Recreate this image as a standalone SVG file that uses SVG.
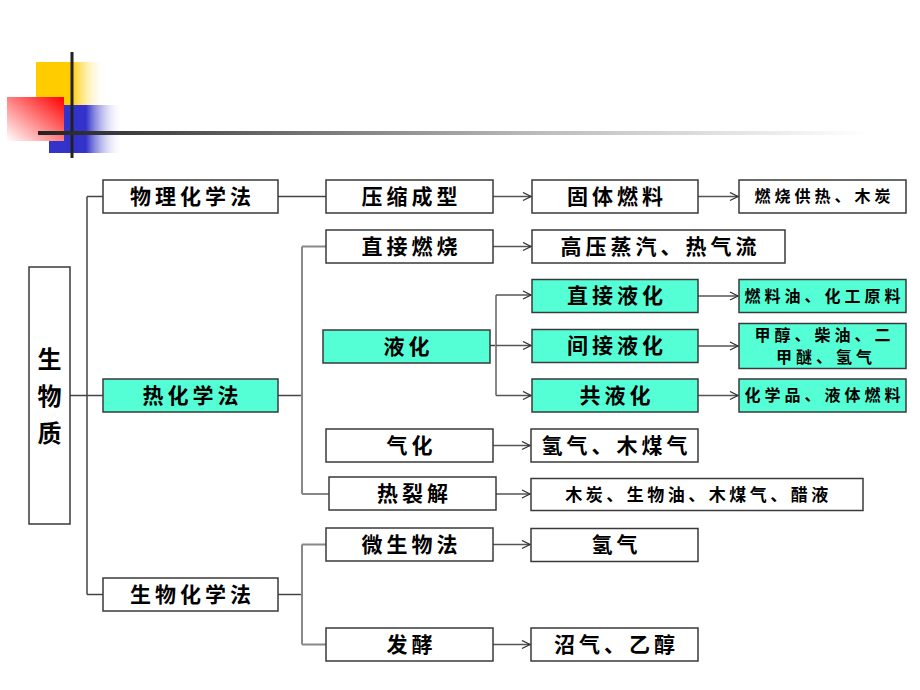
<svg xmlns="http://www.w3.org/2000/svg" width="920" height="690" viewBox="0 0 920 690">
<defs>
<linearGradient id="gY" x1="0" y1="0" x2="1" y2="0"><stop offset="0" stop-color="#FFCC00"/><stop offset="0.5" stop-color="#FFCC00"/><stop offset="1" stop-color="#FFFFFF" stop-opacity="0"/></linearGradient>
<linearGradient id="gB" x1="0" y1="0" x2="1" y2="0"><stop offset="0" stop-color="#3333CC"/><stop offset="0.5" stop-color="#3333CC"/><stop offset="1" stop-color="#FFFFFF" stop-opacity="0"/></linearGradient>
<linearGradient id="gR" x1="1" y1="0" x2="0" y2="1"><stop offset="0" stop-color="#FF0000"/><stop offset="1" stop-color="#FFFFFF"/></linearGradient>
<linearGradient id="gL" x1="0" y1="0" x2="1" y2="0"><stop offset="0" stop-color="#222222"/><stop offset="0.6" stop-color="#BBBBBB"/><stop offset="1" stop-color="#FFFFFF"/></linearGradient>
<marker id="arr" markerUnits="userSpaceOnUse" markerWidth="12" markerHeight="12" refX="9" refY="5" orient="auto"><path d="M1,1 L9,5 L1,9" fill="none" stroke="#333" stroke-width="1.3"/></marker>
<style>
.b{fill:#fff;stroke:#3a3a3a;stroke-width:1.5}
.c{fill:#55FFD5;stroke:#3a3a3a;stroke-width:1.5}
.t{font-family:"Noto Sans CJK SC",sans-serif;font-weight:bold;font-size:21px;letter-spacing:4px;fill:#000;text-anchor:middle;dominant-baseline:central}
.s{font-size:16px;letter-spacing:4px}
.l{fill:none;stroke:#444;stroke-width:1.5}
.g{fill:none;stroke:#888;stroke-width:2}
.a{fill:none;stroke:#555;stroke-width:1.5;marker-end:url(#arr)}
</style>
</defs>
<g id="logo">
<rect x="36" y="62" width="71" height="43" fill="url(#gY)"/>
<rect x="49" y="105" width="74" height="48" fill="url(#gB)"/>
<rect x="7" y="97" width="57" height="44" fill="url(#gR)"/>
<rect x="70.5" y="52" width="3" height="106" fill="#222"/>
<rect x="38" y="131" width="830" height="4" fill="url(#gL)"/>
</g>
<g id="connectors">
<path class="l" d="M70 395.5 H103 M87 196.5 V594.5 M87 196.5 H103 M87 594.5 H103"/>
<path class="l" d="M278 196.5 H326"/>
<path class="l" d="M278 395.5 H302"/>
<path class="g" d="M302 246.5 V494 M302 246.5 H326 M302 494 H329"/>
<path class="l" d="M278 594.5 H302"/>
<path class="g" d="M302 544.5 V644.5 M302 544.5 H326 M302 644.5 H326"/>
<path class="l" d="M490 345.5 H496"/>
<path class="g" d="M496 295 V395.5"/>
<path class="a" d="M496 295 H531"/>
<path class="a" d="M496 345.5 H531"/>
<path class="a" d="M496 395.5 H531"/>
<path class="a" d="M493 196.5 H531"/>
<path class="a" d="M698 196.5 H738"/>
<path class="a" d="M493 246.5 H531"/>
<path class="a" d="M698 296 H738"/>
<path class="a" d="M698 346 H738"/>
<path class="a" d="M698 395.5 H738"/>
<path class="a" d="M493 445.5 H530"/>
<path class="a" d="M496 494 H530"/>
<path class="a" d="M493 544.5 H530"/>
<path class="a" d="M493 644.5 H530"/>
</g>
<g id="n-root"><rect class="b" x="29" y="267" width="41" height="257"/>
<text class="t" style="font-size:24px;letter-spacing:0" x="49.5" y="357">生</text>
<text class="t" style="font-size:24px;letter-spacing:0" x="49.5" y="394">物</text>
<text class="t" style="font-size:24px;letter-spacing:0" x="49.5" y="431">质</text></g>
<g id="n-wlhx"><rect class="b" x="103" y="180" width="175" height="33"/><text class="t" x="192.5" y="194.5">物理化学法</text></g>
<g id="n-rhx"><rect class="c" x="103" y="379" width="175" height="33"/><text class="t" x="192.5" y="393.5">热化学法</text></g>
<g id="n-swhx"><rect class="b" x="103" y="578" width="175" height="33"/><text class="t" x="192.5" y="592.5">生物化学法</text></g>
<g id="n-ysx"><rect class="b" x="326" y="180" width="167" height="33"/><text class="t" x="411.5" y="194.5">压缩成型</text></g>
<g id="n-zjrs"><rect class="b" x="326" y="230" width="167" height="33"/><text class="t" x="411.5" y="244.5">直接燃烧</text></g>
<g id="n-yh"><rect class="c" x="323" y="330" width="167" height="33"/><text class="t" x="408.5" y="344.5">液化</text></g>
<g id="n-qh"><rect class="b" x="326" y="429" width="167" height="33"/><text class="t" x="411.5" y="443.5">气化</text></g>
<g id="n-rlj"><rect class="b" x="329" y="477" width="167" height="33"/><text class="t" x="414.5" y="491.5">热裂解</text></g>
<g id="n-wsw"><rect class="b" x="326" y="528" width="167" height="33"/><text class="t" x="411.5" y="542.5">微生物法</text></g>
<g id="n-fj"><rect class="b" x="326" y="628" width="167" height="33"/><text class="t" x="411.5" y="642.5">发酵</text></g>
<g id="n-gtrl"><rect class="b" x="532" y="180" width="166" height="33"/><text class="t" x="617" y="194.5">固体燃料</text></g>
<g id="n-gyzq"><rect class="b" x="532" y="230" width="253" height="33"/><text class="t" x="660.5" y="244.5">高压蒸汽、热气流</text></g>
<g id="n-zjyh"><rect class="c" x="532" y="279.5" width="166" height="33"/><text class="t" x="617" y="294">直接液化</text></g>
<g id="n-jjyh"><rect class="c" x="532" y="329.5" width="166" height="33"/><text class="t" x="617" y="344">间接液化</text></g>
<g id="n-gyh"><rect class="c" x="532" y="379" width="166" height="33"/><text class="t" x="617" y="393.5">共液化</text></g>
<g id="n-qqmq"><rect class="b" x="531" y="429" width="167" height="33"/><text class="t" x="616.5" y="443.5">氢气、木煤气</text></g>
<g id="n-mt"><rect class="b" x="531" y="478.5" width="332" height="32"/><text class="t" style="font-size:17px;letter-spacing:3.5px" x="698.5" y="493">木炭、生物油、木煤气、醋液</text></g>
<g id="n-qq"><rect class="b" x="531" y="528.5" width="167" height="33"/><text class="t" x="616.5" y="543">氢气</text></g>
<g id="n-zq"><rect class="b" x="531" y="628" width="167" height="33"/><text class="t" x="616.5" y="642.5">沼气、乙醇</text></g>
<g id="n-rsgr"><rect class="b" x="739" y="180" width="167" height="33"/><text class="t s" x="824.5" y="195">燃烧供热、木炭</text></g>
<g id="n-rly"><rect class="c" x="739" y="279.5" width="167" height="33"/><text class="t s" x="824.5" y="294.5">燃料油、化工原料</text></g>
<g id="n-jc"><rect class="c" x="739" y="323.5" width="167" height="45"/><text class="t s" x="824.5" y="334">甲醇、柴油、二</text><text class="t s" x="826" y="356">甲醚、氢气</text></g>
<g id="n-hxp"><rect class="c" x="739" y="379" width="167" height="33"/><text class="t s" x="824.5" y="394">化学品、液体燃料</text></g>
</svg>
